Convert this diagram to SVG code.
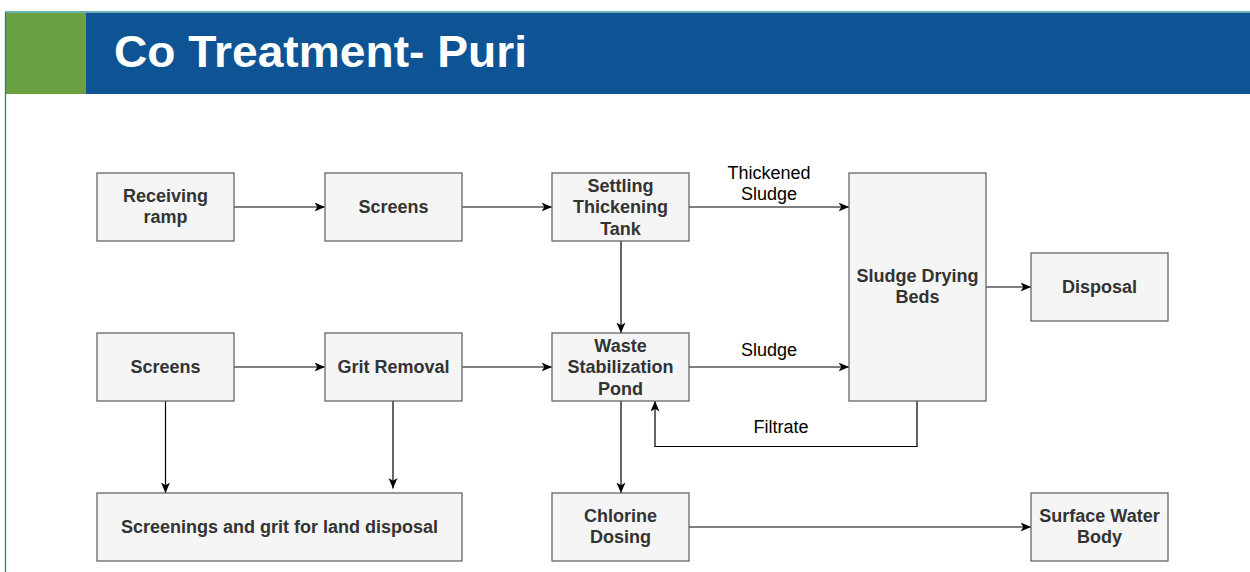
<svg xmlns="http://www.w3.org/2000/svg" width="1250" height="572" viewBox="0 0 1250 572">
<defs>
<style>
.box{fill:#f5f5f5;stroke:#666666;stroke-width:1.3}
.nt{font-family:"Liberation Sans",Arial,sans-serif;font-weight:bold;font-size:18px;fill:#333333;text-anchor:middle}
.el{font-family:"Liberation Sans",Arial,sans-serif;font-size:18px;fill:#000000;text-anchor:middle}
.cn{fill:none;stroke:#000000;stroke-width:1.2}
</style>
<marker id="arr" markerWidth="12" markerHeight="10" refX="10.5" refY="4.5" orient="auto" markerUnits="userSpaceOnUse">
<path d="M0,0 L10.5,4.5 L0,9 L2.8,4.5 Z" fill="#000000"/>
</marker>
</defs>
<rect x="0" y="0" width="1250" height="572" fill="#ffffff"/>
<g id="header">
<rect x="5" y="13" width="1245" height="81" fill="#0e5393"/>
<rect x="5" y="13" width="81" height="81" fill="#6a9f42"/>
<line x1="5" y1="12" x2="1250" y2="12" stroke="#3a9a9a" stroke-width="1.5"/>
<line x1="5.5" y1="12" x2="5.5" y2="572" stroke="#1e8585" stroke-width="1.3"/>
<text x="114" y="67" font-family="'Liberation Sans',Arial,sans-serif" font-weight="bold" font-size="44" fill="#ffffff" textLength="413" lengthAdjust="spacingAndGlyphs">Co Treatment- Puri</text>
</g>
<g id="connectors">
<line class="cn" x1="234" y1="207" x2="325" y2="207" marker-end="url(#arr)"/>
<line class="cn" x1="462" y1="207" x2="552" y2="207" marker-end="url(#arr)"/>
<line class="cn" x1="689" y1="207" x2="849" y2="207" marker-end="url(#arr)"/>
<line class="cn" x1="621" y1="241" x2="621" y2="333" marker-end="url(#arr)"/>
<line class="cn" x1="234" y1="367" x2="325" y2="367" marker-end="url(#arr)"/>
<line class="cn" x1="462" y1="367" x2="552" y2="367" marker-end="url(#arr)"/>
<line class="cn" x1="689" y1="367" x2="849" y2="367" marker-end="url(#arr)"/>
<polyline class="cn" points="917,401 917,446.5 655,446.5 655,401" marker-end="url(#arr)"/>
<line class="cn" x1="986" y1="287" x2="1031" y2="287" marker-end="url(#arr)"/>
<line class="cn" x1="165.5" y1="401" x2="165.5" y2="493" marker-end="url(#arr)"/>
<line class="cn" x1="393" y1="401" x2="393" y2="488.5" marker-end="url(#arr)"/>
<line class="cn" x1="621" y1="401" x2="621" y2="493" marker-end="url(#arr)"/>
<line class="cn" x1="689" y1="527" x2="1031" y2="527" marker-end="url(#arr)"/>
<text class="el" x="769" y="179">Thickened</text>
<text class="el" x="769" y="200">Sludge</text>
<text class="el" x="769" y="356">Sludge</text>
<text class="el" x="781" y="433">Filtrate</text>
</g>
<g id="receiving-ramp">
<rect class="box" x="97" y="173" width="137" height="68"/>
<text class="nt" x="165.5" y="201.5">Receiving</text>
<text class="nt" x="165.5" y="223">ramp</text>
</g>
<g id="screens-top">
<rect class="box" x="325" y="173" width="137" height="68"/>
<text class="nt" x="393.5" y="213">Screens</text>
</g>
<g id="settling-thickening-tank">
<rect class="box" x="552" y="173" width="137" height="68"/>
<text class="nt" x="620.5" y="191.5">Settling</text>
<text class="nt" x="620.5" y="213">Thickening</text>
<text class="nt" x="620.5" y="234.5">Tank</text>
</g>
<g id="sludge-drying-beds">
<rect class="box" x="849" y="173" width="137" height="228"/>
<text class="nt" x="917.5" y="281.5">Sludge Drying</text>
<text class="nt" x="917.5" y="303">Beds</text>
</g>
<g id="disposal">
<rect class="box" x="1031" y="253" width="137" height="68"/>
<text class="nt" x="1099.5" y="293">Disposal</text>
</g>
<g id="screens-left">
<rect class="box" x="97" y="333" width="137" height="68"/>
<text class="nt" x="165.5" y="373">Screens</text>
</g>
<g id="grit-removal">
<rect class="box" x="325" y="333" width="137" height="68"/>
<text class="nt" x="393.5" y="373">Grit Removal</text>
</g>
<g id="waste-stabilization-pond">
<rect class="box" x="552" y="333" width="137" height="68"/>
<text class="nt" x="620.5" y="351.5">Waste</text>
<text class="nt" x="620.5" y="373">Stabilization</text>
<text class="nt" x="620.5" y="394.5">Pond</text>
</g>
<g id="screenings-grit">
<rect class="box" x="97" y="493" width="365" height="68"/>
<text class="nt" x="279.5" y="533">Screenings and grit for land disposal</text>
</g>
<g id="chlorine-dosing">
<rect class="box" x="552" y="493" width="137" height="68"/>
<text class="nt" x="620.5" y="521.5">Chlorine</text>
<text class="nt" x="620.5" y="543">Dosing</text>
</g>
<g id="surface-water-body">
<rect class="box" x="1031" y="493" width="137" height="68"/>
<text class="nt" x="1099.5" y="521.5">Surface Water</text>
<text class="nt" x="1099.5" y="543">Body</text>
</g>
</svg>
